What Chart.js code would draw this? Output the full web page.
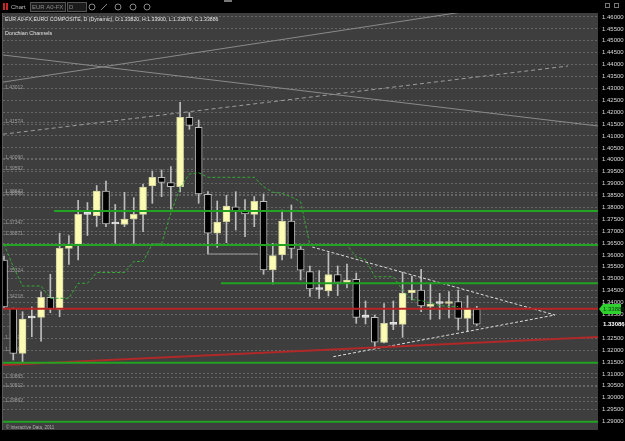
<!DOCTYPE html>
<html>
<head>
<meta charset="utf-8">
<script src="https://cdn.jsdelivr.net/npm/chart.js@4.4.0/dist/chart.umd.min.js"></script>
<style>
  html, body { margin: 0; padding: 0; background: #000; }
  canvas { display: block; }
</style>
</head>
<body>
<canvas id="canvas" width="625" height="441"></canvas>
<script>
// EUR A0-FX daily bars, 30 Sep - 12 Dec 2011
const dates = ['2011-09-30','2011-10-03','2011-10-04','2011-10-05','2011-10-06','2011-10-07','2011-10-10','2011-10-11','2011-10-12','2011-10-13',
  '2011-10-14','2011-10-17','2011-10-18','2011-10-19','2011-10-20','2011-10-21','2011-10-24','2011-10-25','2011-10-26','2011-10-27',
  '2011-10-28','2011-10-31','2011-11-01','2011-11-02','2011-11-03','2011-11-04','2011-11-07','2011-11-08','2011-11-09','2011-11-10',
  '2011-11-11','2011-11-14','2011-11-15','2011-11-16','2011-11-17','2011-11-18','2011-11-21','2011-11-22','2011-11-23','2011-11-24',
  '2011-11-25','2011-11-28','2011-11-29','2011-11-30','2011-12-01','2011-12-02','2011-12-05','2011-12-06','2011-12-07','2011-12-08',
  '2011-12-09','2011-12-12'];
const openP = [1.35787,1.33758,1.31866,1.33350,1.33379,1.34220,1.33707,1.36271,1.36439,1.37708,
  1.37649,1.38687,1.37300,1.37288,1.37511,1.37708,1.38897,1.39263,1.39036,1.38868,
  1.41785,1.41364,1.38549,1.36910,1.37397,1.38027,1.37859,1.37708,1.38254,1.35367,
  1.35998,1.37426,1.36250,1.35296,1.34548,1.34485,1.35170,1.34842,1.34976,1.33379,
  1.33379,1.32320,1.33085,1.33085,1.34413,1.34527,1.33833,1.33959,1.33959,1.34043,
  1.33337,1.33728];
const highP = [1.35956,1.33770,1.33615,1.33812,1.34455,1.35187,1.36910,1.36809,1.38297,1.38204,
  1.38918,1.39108,1.38120,1.38633,1.38406,1.38981,1.39528,1.39570,1.39709,1.42415,
  1.41978,1.41671,1.38658,1.38267,1.38507,1.38658,1.38330,1.38456,1.38561,1.36489,
  1.37889,1.38099,1.36355,1.35535,1.35346,1.36094,1.35535,1.35619,1.35241,1.34064,
  1.33476,1.33959,1.34064,1.35271,1.35115,1.35397,1.34808,1.34388,1.34464,1.34527,
  1.34287,1.33842];
const lowP = [1.33770,1.31585,1.31417,1.32564,1.32371,1.33573,1.33405,1.35598,1.35787,1.36817,
  1.37195,1.37187,1.36489,1.37187,1.36489,1.36977,1.38170,1.38448,1.37931,1.38658,
  1.41280,1.38170,1.36040,1.36321,1.36515,1.37048,1.36767,1.37187,1.35187,1.34779,
  1.35787,1.35859,1.34947,1.34253,1.34178,1.34274,1.34295,1.34611,1.33127,1.33098,
  1.32076,1.32299,1.32858,1.32539,1.34106,1.33615,1.33295,1.33308,1.33350,1.32846,
  1.32774,1.33035];
const closeP = [1.33812,1.31866,1.33308,1.33350,1.34220,1.33728,1.36279,1.36439,1.37708,1.37708,
  1.38687,1.37300,1.37300,1.37511,1.37708,1.38855,1.39263,1.39053,1.38868,1.41785,
  1.41448,1.38561,1.36910,1.37384,1.38057,1.37859,1.37721,1.38254,1.35367,1.35968,
  1.37426,1.36279,1.35355,1.34569,1.34548,1.35178,1.34842,1.34947,1.33379,1.33379,
  1.32329,1.33127,1.33085,1.34401,1.34527,1.33854,1.33938,1.33959,1.34035,1.33337,
  1.33770,1.33086];
// Donchian Channels (the one visible band line)
const donchian = [1.36460,1.35506,1.34695,1.34695,1.34695,1.34178,1.34178,1.34178,1.34808,1.34808,
  1.35262,1.35262,1.35262,1.35262,1.35724,1.35724,1.36460,1.36460,1.37763,1.38813,
  1.39402,1.39456,1.39263,1.39263,1.39263,1.39263,1.39263,1.39263,1.38868,1.38633,
  1.38591,1.38435,1.38238,1.36418,1.36418,1.36418,1.36418,1.36418,1.35914,1.35808,
  1.35086,1.35086,1.35086,1.34527,1.34127,1.34085,1.33980,1.33875,1.33833,1.33833,
  null,null];

// drawn levels (price) and where they start (bar index)
const greenLevels = [1.37847, 1.36418, 1.34808, 1.31471, 1.28992];
const greenFrom = [5.4, -0.2, 23.4, -0.2, -0.2];
const redLevel = 1.33741;
const redSlant = [1.31379, 1.32551];
const grayLineA = [1.43264, 1.47080];
const grayLineB = [1.44403, 1.41419];
const grayLineC = [1.41074, 1.43941];
const grayLineCEnd = 60.84;
const triUpper = [[33.25, 1.36334], [59.44, 1.33476]];
const triLower = [[35.52, 1.31724], [59.44, 1.33476]];
const boxLine = [[22, 1.36040], [27.4, 1.36040]];

const fibTexts = ['1.43012','1.41574','1.40090','1.39592','1.38642','1.38560','1.37347','1.36871',
  '1.35324','1.34218','1.32512','1.31996','1.30865','1.30512','1.29862'];
const yTickLabels = ['1.46000','1.45500','1.45000','1.44500','1.44000','1.43500','1.43000','1.42500','1.42000',
  '1.41500','1.41000','1.40500','1.40000','1.39500','1.39000','1.38500','1.38000','1.37500','1.37000',
  '1.36500','1.36000','1.35500','1.35000','1.34500','1.34000','1.33500','1.33000','1.32500','1.32000',
  '1.31500','1.31000','1.30500','1.30000','1.29500','1.29000'];
const xTickIdx = [1, 11, 18, 22, 33, 44, 51];
const xTickText = ['Oct', '17', '26', 'Nov', '16', 'Dec', '12'];

const lastPrice = { text: '1.33886', level: 1.33741 };
const lastClose = { text: '1.33086', level: 1.33086 };

const xMin = -0.108, xMax = 64.08;
const yMin = 1.28643, yMax = 1.46168;
const FONT = '"Liberation Sans", Arial, sans-serif';

const upCol = '#fbfbb4', downCol = '#000000', dojiCol = '#e6e6e6';
const bodyCol = openP.map((o, i) => closeP[i] > o ? upCol : (closeP[i] < o ? downCol : dojiCol));
const bodyEdge = openP.map((o, i) => closeP[i] > o ? '#cfcf9c' : (closeP[i] < o ? '#bdbdbd' : dojiCol));

function seg(p1, p2, color, width, dash) {
  return {
    type: 'line', data: [{x: p1[0], y: p1[1]}, {x: p2[0], y: p2[1]}],
    borderColor: color, borderWidth: width, borderDash: dash || [],
    pointRadius: 0, order: 0
  };
}

const overlay = [];
greenLevels.forEach((v, i) => overlay.push(seg([greenFrom[i], v], [xMax + 1, v], '#22a322', 2)));
overlay.push(seg([xMin - 1, redLevel], [xMax + 1, redLevel], '#b82424', 2));
overlay.push(seg([xMin, redSlant[0]], [xMax, redSlant[1]], '#b02828', 2));
overlay.push(seg([xMin, grayLineA[0]], [xMax, grayLineA[1]], '#8a8a8a', 1));
overlay.push(seg([xMin, grayLineB[0]], [xMax, grayLineB[1]], '#8a8a8a', 1));
overlay.push(seg([xMin, grayLineC[0]], [grayLineCEnd, grayLineC[1]], '#9c9c9c', 1, [4, 3]));
overlay.push(seg(triUpper[0], triUpper[1], '#dcdcdc', 1, [3, 2]));
overlay.push(seg(triLower[0], triLower[1], '#dcdcdc', 1, [3, 2]));
overlay.push(seg(boxLine[0], boxLine[1], '#9a9a9a', 1));

// draws text squeezed to a narrower UI font look
function narrowText(ctx, text, x, y, sx) {
  ctx.save();
  ctx.translate(x, y);
  ctx.scale(sx, 1);
  ctx.fillText(text, 0, 0);
  ctx.restore();
}

const frame = {
  id: 'frame',
  beforeDraw(chart) {
    const {ctx, chartArea: a} = chart;
    ctx.save();
    ctx.fillStyle = '#000';
    ctx.fillRect(0, 0, chart.width, chart.height);
    ctx.fillStyle = '#3e3e3e';
    ctx.fillRect(a.left, a.top, a.right - a.left, a.bottom - a.top);
    ctx.fillStyle = '#5a5a5a';
    ctx.fillRect(a.left - 1, a.top, 1, a.bottom - a.top);
    ctx.restore();
  },
  beforeDatasetsDraw(chart) {
    const {ctx, chartArea: a, scales: {y}} = chart;
    ctx.save();
    ctx.strokeStyle = '#666';
    ctx.lineWidth = 1;
    ctx.setLineDash([2, 2]);
    ctx.font = '5px ' + FONT;
    ctx.fillStyle = '#9a9a9a';
    ctx.textBaseline = 'middle';
    fibTexts.forEach(t => {
      const py = Math.round(y.getPixelForValue(parseFloat(t))) + 0.5;
      ctx.beginPath(); ctx.moveTo(a.left, py); ctx.lineTo(a.right, py); ctx.stroke();
      ctx.fillText(t, a.left + 2, py - 1);
    });
    ctx.restore();
  },
  afterDraw(chart) {
    const {ctx, chartArea: a, scales: {y}} = chart;
    ctx.save();
    // toolbar
    ctx.fillStyle = '#000';
    ctx.fillRect(0, 0, chart.width, a.top);
    ctx.fillStyle = '#c62828';
    ctx.fillRect(3, 3, 2, 7); ctx.fillRect(6, 3, 2, 7);
    ctx.font = '6px ' + FONT;
    ctx.textBaseline = 'middle';
    ctx.fillStyle = '#bdbdbd';
    ctx.fillText('Chart', 11, 7);
    ctx.strokeStyle = '#555'; ctx.lineWidth = 1;
    ctx.fillStyle = '#1b1b1b';
    ctx.fillRect(30.5, 2.5, 35, 9); ctx.strokeRect(30.5, 2.5, 35, 9);
    ctx.fillRect(67.5, 2.5, 19, 9); ctx.strokeRect(67.5, 2.5, 19, 9);
    ctx.fillStyle = '#8a8a8a';
    ctx.fillText('EUR A0-FX', 32, 7);
    ctx.fillText('D', 69, 7);
    ctx.strokeStyle = '#8a8a8a';
    [92, 118, 133, 147].forEach(cx => { ctx.beginPath(); ctx.arc(cx, 7, 3, 0, Math.PI * 2); ctx.stroke(); });
    ctx.beginPath(); ctx.moveTo(101, 10); ctx.lineTo(107, 4); ctx.stroke();
    ctx.fillStyle = '#777';
    ctx.fillRect(224, 0, 8, 2);
    ctx.strokeStyle = '#777';
    ctx.strokeRect(605.5, 3.5, 4, 4); ctx.strokeRect(614.5, 3.5, 4, 4);

    // chart header texts
    ctx.fillStyle = '#e4e4e4';
    ctx.font = '6px ' + FONT;
    narrowText(ctx, 'EUR A0-FX,EURO COMPOSITE, D (Dynamic), O:1.33820, H:1.33900, L:1.33879, C:1.33886', a.left + 2, 19, 0.86);
    narrowText(ctx, 'Donchian Channels', a.left + 2, 33, 0.9);
    ctx.font = '4.5px ' + FONT;
    ctx.fillStyle = '#b0b0b0';
    ctx.fillText('\u00a9 Interactive Data, 2011', a.left + 3, a.bottom - 2);

    // price tags on the right axis
    const gy = Math.round(y.getPixelForValue(lastPrice.level));
    ctx.fillStyle = '#2fd12f';
    ctx.beginPath();
    ctx.moveTo(a.right + 1, gy); ctx.lineTo(a.right + 5, gy - 5); ctx.lineTo(a.right + 23, gy - 5);
    ctx.lineTo(a.right + 23, gy + 5); ctx.lineTo(a.right + 5, gy + 5); ctx.closePath(); ctx.fill();
    ctx.fillStyle = '#0e3d0e';
    ctx.font = '6px ' + FONT;
    ctx.fillText(lastPrice.text, a.right + 5, gy);
    const wy = Math.round(y.getPixelForValue(lastClose.level));
    ctx.fillStyle = '#000';
    ctx.fillRect(a.right + 1, wy - 4, 24, 8);
    ctx.fillStyle = '#ffffff';
    ctx.font = 'bold 6px ' + FONT;
    ctx.fillText(lastClose.text, a.right + 5, wy);
    ctx.restore();
  }
};

const config = {
  type: 'bar',
  data: {
    datasets: [
      {
        label: 'wick',
        data: dates.map((d, i) => ({x: i, y: [lowP[i], highP[i]]})),
        backgroundColor: '#bdbdbd', barThickness: 1, grouped: false, order: 10
      },
      {
        label: 'body',
        data: dates.map((d, i) => ({x: i, y: [openP[i], closeP[i]]})),
        backgroundColor: bodyCol, borderColor: bodyEdge, borderWidth: 1, borderSkipped: false,
        barThickness: 7, minBarLength: 2, grouped: false, order: 9
      },
      {
        type: 'line', label: 'Donchian Channels',
        data: dates.map((d, i) => ({x: i, y: donchian[i]})),
        borderColor: '#36a836', borderWidth: 1, borderDash: [3, 2], pointRadius: 0, order: 1
      },
      ...overlay
    ]
  },
  options: {
    responsive: false,
    animation: false,
    events: [],
    layout: { padding: { top: 13, left: 3, right: 0, bottom: 0 } },
    plugins: { legend: { display: false }, tooltip: { enabled: false } },
    scales: {
      x: {
        type: 'linear', min: xMin, max: xMax, offset: false,
        grid: { display: false }, border: { display: false },
        afterFit: s => { s.height = 11; },
        afterBuildTicks: s => { s.ticks = xTickIdx.map(v => ({value: v})); },
        ticks: {
          autoSkip: false, maxRotation: 0, padding: 2,
          color: '#c8c8c8', font: { family: FONT, size: 6 },
          callback: v => xTickText[xTickIdx.indexOf(v)]
        }
      },
      y: {
        type: 'linear', position: 'right', min: yMin, max: yMax,
        grid: { color: '#666', lineWidth: 1, drawTicks: false },
        border: { display: false, dash: [2, 2] },
        afterFit: s => { s.width = 27; },
        afterBuildTicks: s => { s.ticks = yTickLabels.map(t => ({value: parseFloat(t)})); },
        ticks: {
          autoSkip: false, padding: 4,
          color: '#dcdcdc', font: { family: FONT, size: 6 },
          callback: v => v.toFixed(5)
        }
      }
    }
  },
  plugins: [frame]
};

const canvas = document.getElementById('canvas');
const chart = new Chart(canvas, config);
</script>
</body>
</html>
